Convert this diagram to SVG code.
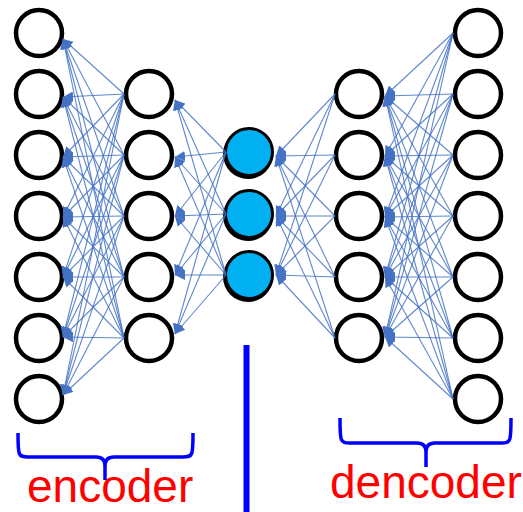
<svg xmlns="http://www.w3.org/2000/svg" width="523" height="512" viewBox="0 0 523 512">
<style>
.n{fill:#fff;stroke:#000;stroke-width:4.5}
.b{fill:#00B0F0;stroke:#000;stroke-width:3}
.sh{fill:#000}
.conn line{stroke:#4472C4;stroke-width:1.1;stroke-opacity:0.85;marker-end:url(#a)}
.br{fill:none;stroke:#0000FF;stroke-width:3.5;stroke-linejoin:round}
.lbl{font-family:"Liberation Sans",Arial,sans-serif;font-size:46px;fill:#FF0000}
</style>
<defs>
<marker id="a" markerWidth="10" markerHeight="10" refX="10" refY="5" orient="auto" markerUnits="userSpaceOnUse"><path d="M0,0 L10,5 L0,10 z" fill="#4472C4"/></marker>
</defs>
<rect width="523" height="512" fill="#fff"/>
<g id="layer1">
<g id="l1n1"><circle class="n" cx="39" cy="33" r="23"/></g>
<g id="l1n2"><circle class="n" cx="39" cy="94" r="23"/></g>
<g id="l1n3"><circle class="n" cx="39" cy="155" r="23"/></g>
<g id="l1n4"><circle class="n" cx="39" cy="216" r="23"/></g>
<g id="l1n5"><circle class="n" cx="39" cy="277" r="23"/></g>
<g id="l1n6"><circle class="n" cx="39" cy="338" r="23"/></g>
<g id="l1n7"><circle class="n" cx="39" cy="399" r="23"/></g>
</g>
<g id="layer2">
<g id="l2n1"><circle class="n" cx="149" cy="94" r="23"/></g>
<g id="l2n2"><circle class="n" cx="149" cy="155" r="23"/></g>
<g id="l2n3"><circle class="n" cx="149" cy="216" r="23"/></g>
<g id="l2n4"><circle class="n" cx="149" cy="277" r="23"/></g>
<g id="l2n5"><circle class="n" cx="149" cy="338" r="23"/></g>
</g>
<g id="layer3">
<g id="l3n1"><circle class="sh" cx="248" cy="154" r="25"/><circle class="b" cx="249" cy="152" r="23.5"/></g>
<g id="l3n2"><circle class="sh" cx="248" cy="216" r="25"/><circle class="b" cx="249" cy="214" r="23.5"/></g>
<g id="l3n3"><circle class="sh" cx="248" cy="277" r="25"/><circle class="b" cx="249" cy="275" r="23.5"/></g>
</g>
<g id="layer4">
<g id="l4n1"><circle class="n" cx="359" cy="94" r="23"/></g>
<g id="l4n2"><circle class="n" cx="359" cy="155" r="23"/></g>
<g id="l4n3"><circle class="n" cx="359" cy="216" r="23"/></g>
<g id="l4n4"><circle class="n" cx="359" cy="277" r="23"/></g>
<g id="l4n5"><circle class="n" cx="359" cy="338" r="23"/></g>
</g>
<g id="layer5">
<g id="l5n1"><circle class="n" cx="478" cy="33" r="23"/></g>
<g id="l5n2"><circle class="n" cx="478" cy="94" r="23"/></g>
<g id="l5n3"><circle class="n" cx="478" cy="155" r="23"/></g>
<g id="l5n4"><circle class="n" cx="478" cy="216" r="23"/></g>
<g id="l5n5"><circle class="n" cx="478" cy="277" r="23"/></g>
<g id="l5n6"><circle class="n" cx="478" cy="338" r="23"/></g>
<g id="l5n7"><circle class="n" cx="478" cy="399" r="23"/></g>
</g>
<g id="connectors" class="conn">
<line x1="124" y1="94" x2="63" y2="39"/><line x1="124" y1="94" x2="63" y2="97"/><line x1="124" y1="94" x2="63" y2="157"/><line x1="124" y1="94" x2="63" y2="217"/><line x1="124" y1="94" x2="63" y2="277"/><line x1="124" y1="94" x2="63" y2="337"/><line x1="124" y1="94" x2="63" y2="395"/>
<line x1="124" y1="155" x2="63" y2="39"/><line x1="124" y1="155" x2="63" y2="97"/><line x1="124" y1="155" x2="63" y2="157"/><line x1="124" y1="155" x2="63" y2="217"/><line x1="124" y1="155" x2="63" y2="277"/><line x1="124" y1="155" x2="63" y2="337"/><line x1="124" y1="155" x2="63" y2="395"/>
<line x1="124" y1="216" x2="63" y2="39"/><line x1="124" y1="216" x2="63" y2="97"/><line x1="124" y1="216" x2="63" y2="157"/><line x1="124" y1="216" x2="63" y2="217"/><line x1="124" y1="216" x2="63" y2="277"/><line x1="124" y1="216" x2="63" y2="337"/><line x1="124" y1="216" x2="63" y2="395"/>
<line x1="124" y1="277" x2="63" y2="39"/><line x1="124" y1="277" x2="63" y2="97"/><line x1="124" y1="277" x2="63" y2="157"/><line x1="124" y1="277" x2="63" y2="217"/><line x1="124" y1="277" x2="63" y2="277"/><line x1="124" y1="277" x2="63" y2="337"/><line x1="124" y1="277" x2="63" y2="395"/>
<line x1="124" y1="338" x2="63" y2="39"/><line x1="124" y1="338" x2="63" y2="97"/><line x1="124" y1="338" x2="63" y2="157"/><line x1="124" y1="338" x2="63" y2="217"/><line x1="124" y1="338" x2="63" y2="277"/><line x1="124" y1="338" x2="63" y2="337"/><line x1="124" y1="338" x2="63" y2="395"/>
<line x1="226" y1="152" x2="175" y2="100"/><line x1="226" y1="152" x2="175" y2="157"/><line x1="226" y1="152" x2="175" y2="216"/><line x1="226" y1="152" x2="175" y2="275"/><line x1="226" y1="152" x2="175" y2="334"/>
<line x1="226" y1="214" x2="175" y2="100"/><line x1="226" y1="214" x2="175" y2="157"/><line x1="226" y1="214" x2="175" y2="216"/><line x1="226" y1="214" x2="175" y2="275"/><line x1="226" y1="214" x2="175" y2="334"/>
<line x1="226" y1="275" x2="175" y2="100"/><line x1="226" y1="275" x2="175" y2="157"/><line x1="226" y1="275" x2="175" y2="216"/><line x1="226" y1="275" x2="175" y2="275"/><line x1="226" y1="275" x2="175" y2="334"/>
<line x1="335" y1="94" x2="276" y2="156"/><line x1="335" y1="94" x2="276" y2="216"/><line x1="335" y1="94" x2="276" y2="275"/>
<line x1="335" y1="155" x2="276" y2="156"/><line x1="335" y1="155" x2="276" y2="216"/><line x1="335" y1="155" x2="276" y2="275"/>
<line x1="335" y1="216" x2="276" y2="156"/><line x1="335" y1="216" x2="276" y2="216"/><line x1="335" y1="216" x2="276" y2="275"/>
<line x1="335" y1="277" x2="276" y2="156"/><line x1="335" y1="277" x2="276" y2="216"/><line x1="335" y1="277" x2="276" y2="275"/>
<line x1="335" y1="338" x2="276" y2="156"/><line x1="335" y1="338" x2="276" y2="216"/><line x1="335" y1="338" x2="276" y2="275"/>
<line x1="453" y1="33" x2="385" y2="96"/><line x1="453" y1="33" x2="385" y2="156"/><line x1="453" y1="33" x2="385" y2="217"/><line x1="453" y1="33" x2="385" y2="277"/><line x1="453" y1="33" x2="385" y2="337"/>
<line x1="453" y1="94" x2="385" y2="96"/><line x1="453" y1="94" x2="385" y2="156"/><line x1="453" y1="94" x2="385" y2="217"/><line x1="453" y1="94" x2="385" y2="277"/><line x1="453" y1="94" x2="385" y2="337"/>
<line x1="453" y1="155" x2="385" y2="96"/><line x1="453" y1="155" x2="385" y2="156"/><line x1="453" y1="155" x2="385" y2="217"/><line x1="453" y1="155" x2="385" y2="277"/><line x1="453" y1="155" x2="385" y2="337"/>
<line x1="453" y1="216" x2="385" y2="96"/><line x1="453" y1="216" x2="385" y2="156"/><line x1="453" y1="216" x2="385" y2="217"/><line x1="453" y1="216" x2="385" y2="277"/><line x1="453" y1="216" x2="385" y2="337"/>
<line x1="453" y1="277" x2="385" y2="96"/><line x1="453" y1="277" x2="385" y2="156"/><line x1="453" y1="277" x2="385" y2="217"/><line x1="453" y1="277" x2="385" y2="277"/><line x1="453" y1="277" x2="385" y2="337"/>
<line x1="453" y1="338" x2="385" y2="96"/><line x1="453" y1="338" x2="385" y2="156"/><line x1="453" y1="338" x2="385" y2="217"/><line x1="453" y1="338" x2="385" y2="277"/><line x1="453" y1="338" x2="385" y2="337"/>
<line x1="453" y1="399" x2="385" y2="96"/><line x1="453" y1="399" x2="385" y2="156"/><line x1="453" y1="399" x2="385" y2="217"/><line x1="453" y1="399" x2="385" y2="277"/><line x1="453" y1="399" x2="385" y2="337"/>
</g>
<g id="annotations">
<path class="br" d="M18,433 C18,455 18,457 28,457 L96,457 Q105,457 105,466 L105,480 M105,466 Q105,457 114,457 L183,457 C193,457 193,455 193,433"/>
<path class="br" d="M340,418 C340,441 340,443 350,443 L417,443 Q426,443 426,452 L426,467 M426,452 Q426,443 435,443 L501,443 C511,443 511,441 511,418"/>
<line x1="246.5" y1="345" x2="246.5" y2="512" stroke="#0000FF" stroke-width="6"/>
<text class="lbl" x="27" y="502">encoder</text>
<text class="lbl" x="330" y="498">dencoder</text>
</g>
</svg>
